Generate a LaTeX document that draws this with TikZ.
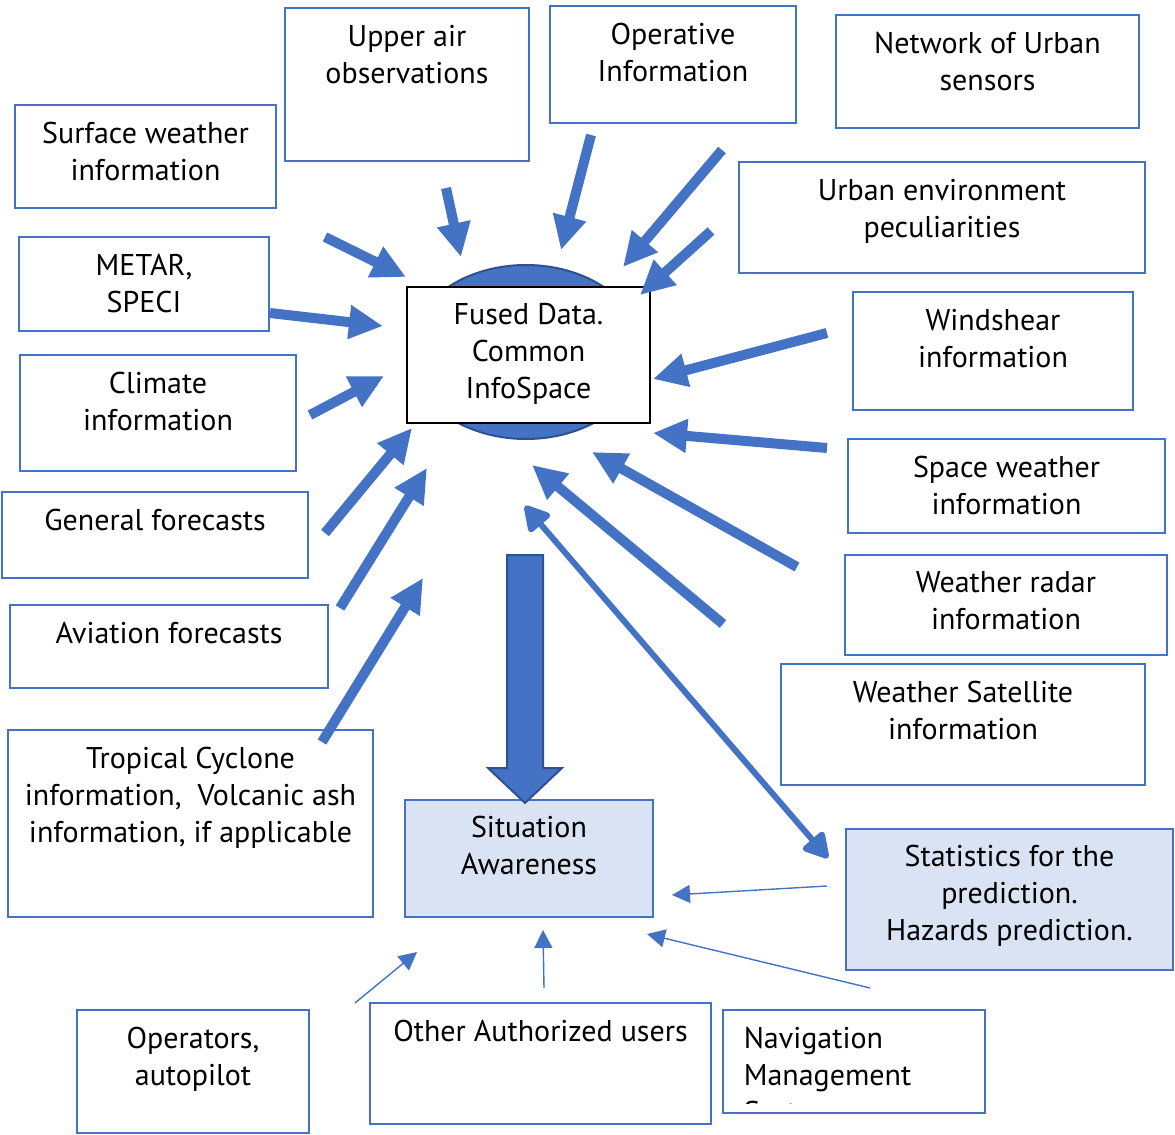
\documentclass[tikz,border=0pt]{standalone}
\usepackage{fontspec}
\setmainfont{PT Sans}
\usetikzlibrary{arrows.meta, fit, positioning, shapes.geometric}

\definecolor{officeblue}{HTML}{4472C4}
\definecolor{darkblue}{HTML}{2F528F}
\definecolor{paleblue}{HTML}{DAE3F3}

\begin{document}
\begin{tikzpicture}[
  x=0.5pt, y=-0.5pt,
  infobox/.style={draw=officeblue, line width=0.6pt, inner sep=0pt, fit={#1}},
  keybox/.style={draw=officeblue, fill=paleblue, line width=1.2pt, inner sep=0pt, fit={#1}},
  boxtext/.style={inner sep=0pt, align=center, font=\fontsize{15}{18.5}\selectfont},
  feed/.style={officeblue, line width=5pt, -{Triangle[width=16pt, length=17pt]}},
  link/.style={officeblue, line width=3pt, line cap=round,
    {Triangle[round, width=15pt, length=14pt]}-{Triangle[round, width=15pt, length=14pt]}},
  thin/.style={officeblue, line width=0.7pt, -{Triangle[width=9pt, length=9pt]}}
]
\useasboundingbox (0,0) rectangle (1175,1135);

% === Source boxes ===
\node[infobox={(15,105) (276,208)}]   (surface) {};
\node[infobox={(285,8) (529,161)}]    (upper) {};
\node[infobox={(550,6) (796,123)}]    (operative) {};
\node[infobox={(836,15) (1139,128)}]  (network) {};
\node[infobox={(739,162) (1145,273)}] (urban) {};
\node[infobox={(19,237) (269,331)}]   (metar) {};
\node[infobox={(853,292) (1133,410)}] (windshear) {};
\node[infobox={(20,355) (296,471)}]   (climate) {};
\node[infobox={(848,439) (1165,533)}] (space) {};
\node[infobox={(2,492) (308,578)}]    (general) {};
\node[infobox={(845,555) (1167,655)}] (radar) {};
\node[infobox={(10,605) (328,688)}]   (aviation) {};
\node[infobox={(781,664) (1145,785)}] (satellite) {};
\node[infobox={(8,730) (373,917)}]    (tropical) {};

% === Users ===
\node[infobox={(77,1010) (309,1133)}]  (operators) {};
\node[infobox={(370,1003) (711,1124)}] (others) {};
\node[infobox={(723,1010) (985,1113)}] (navigation) {};

% === Fused data over the blue ellipse ===
\node[ellipse, draw=darkblue, fill=officeblue, line width=1pt,
      minimum width=117pt, minimum height=87pt] (blob) at (526,352) {};
\node[draw=black, fill=white, line width=0.8pt, inner sep=0pt,
      fit={(407,287) (650,423)}] (fused) {};

% === Outputs ===
\node[keybox={(405,800) (653,917)}]  (situation) {};
\node[keybox={(846,829) (1173,970)}] (statistics) {};

% === Texts ===
\node[boxtext, below=8.5pt] (surface-t)   at (surface.north)   {Surface weather\\information};
\node[boxtext, below=8.5pt] (upper-t)     at (upper.north)     {Upper air\\observations};
\node[boxtext, below=8.5pt] (operative-t) at (operative.north) {Operative\\Information};
\node[boxtext, below=8.5pt] (network-t)   at (network.north)   {Network of Urban\\sensors};
\node[boxtext, below=8.5pt] (urban-t)     at (urban.north)     {Urban environment\\peculiarities};
\node[boxtext, below=8.5pt] (metar-t)     at (metar.north)     {METAR,\\SPECI};
\node[boxtext, below=8.5pt] (windshear-t) at (windshear.north) {Windshear\\information};
\node[boxtext, below=8.5pt] (climate-t)   at (climate.north)   {Climate\\information};
\node[boxtext, below=8.5pt] (space-t)     at (space.north)     {Space weather\\information};
\node[boxtext, below=8.5pt] (general-t)   at (general.north)   {General forecasts};
\node[boxtext, below=8.5pt] (radar-t)     at (radar.north)     {Weather radar\\information};
\node[boxtext, below=8.5pt] (aviation-t)  at (aviation.north)  {Aviation forecasts};
\node[boxtext, below=8.5pt] (satellite-t) at (satellite.north) {Weather Satellite\\information};
\node[boxtext, below=8.5pt] (tropical-t)  at (tropical.north)
  {Tropical Cyclone\\information,\ \ Volcanic ash\\information, if applicable};
\node[boxtext, below=8.5pt] (fused-t)     at (fused.north)     {Fused Data.\\Common\\InfoSpace};
\node[boxtext, below=8.5pt] (situation-t) at (situation.north) {Situation\\Awareness};
\node[boxtext, below=8.5pt] (statistics-t) at (statistics.north)
  {Statistics for the\\prediction.\\Hazards prediction.};
\node[boxtext, below=8.5pt] (operators-t) at (operators.north) {Operators,\\autopilot};
\node[boxtext, below=8.5pt] (others-t)    at (others.north)    {Other Authorized users};
\begin{scope}
  \clip (723,1010) rectangle (985,1103);
  \node[boxtext, align=left, anchor=north west] (navigation-t)
    at ([xshift=10.5pt, yshift=-8.5pt]navigation.north west) {Navigation\\Management\\System};
\end{scope}

% === Arrow ends (o = tail, i = tip) ===
\coordinate (surface-o)   at (325,237); \coordinate (surface-i)   at (406,277);
\coordinate (metar-o)     at (270,313); \coordinate (metar-i)     at (383,326);
\coordinate (upper-o)     at (446,188); \coordinate (upper-i)     at (461,257);
\coordinate (operative-o) at (591,135); \coordinate (operative-i) at (561,250);
\coordinate (network-o)   at (722,150); \coordinate (network-i)   at (623,267);
\coordinate (urban-o)     at (711,231); \coordinate (urban-i)     at (640,295);
\coordinate (windshear-o) at (827,333); \coordinate (windshear-i) at (653,379);
\coordinate (space-o)     at (827,448); \coordinate (space-i)     at (653,433);
\coordinate (radar-o)     at (797,567); \coordinate (radar-i)     at (592,452);
\coordinate (satellite-o) at (723,624); \coordinate (satellite-i) at (532,465);
\coordinate (climate-o)   at (310,415); \coordinate (climate-i)   at (384,376);
\coordinate (general-o)   at (325,533); \coordinate (general-i)   at (412,428);
\coordinate (aviation-o)  at (340,608); \coordinate (aviation-i)  at (427,468);
\coordinate (tropical-o)  at (322,742); \coordinate (tropical-i)  at (423,578);

% === Feeds into the fused data ===
\foreach \src in {surface, metar, upper, operative, network, urban, windshear,
                  space, radar, satellite, climate, general, aviation, tropical}
  \draw[feed] (\src-o) -- (\src-i);

% === Statistics <-> fused data ===
\coordinate (statistics-o) at (828,858);
\coordinate (fused-o)      at (525,506);
\draw[link] (fused-o) -- (statistics-o);

% === Block arrow down to situation awareness ===
\draw[fill=officeblue, draw=darkblue, line width=1pt]
  (507,555) -- (543,555) -- (543,768) -- (562,768) -- (525,803)
  -- (488,768) -- (507,768) -- cycle;

% === Into situation awareness ===
\coordinate (statistics-a) at (827,886); \coordinate (situation-a) at (672,895);
\coordinate (navigation-a) at (870,988); \coordinate (situation-b) at (647,934);
\coordinate (others-a)     at (544,988); \coordinate (situation-c) at (543,930);
\coordinate (operators-a)  at (355,1003); \coordinate (situation-d) at (417,952);
\draw[thin] (statistics-a) -- (situation-a);
\draw[thin] (navigation-a) -- (situation-b);
\draw[thin] (others-a) -- (situation-c);
\draw[thin] (operators-a) -- (situation-d);

\end{tikzpicture}
\end{document}
